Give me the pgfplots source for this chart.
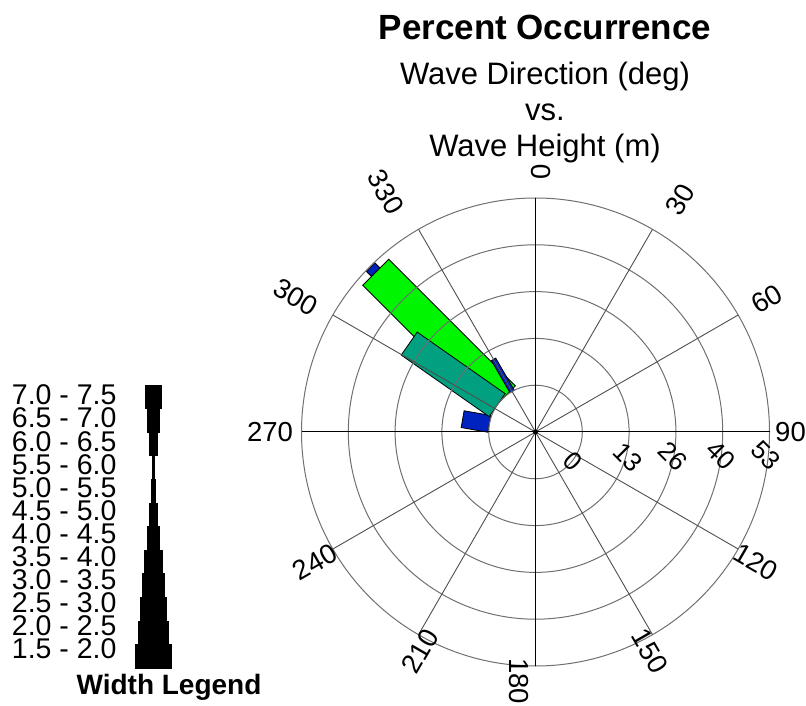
\documentclass[border=0pt]{standalone}
\usepackage{pgfplots}
\pgfplotsset{compat=1.18}
\usepackage{pgfplotstable}
\usepackage{fontspec}
\setmainfont{Liberation Sans}

\definecolor{wblue}{RGB}{0,34,190}
\definecolor{wgreen}{RGB}{0,245,0}
\definecolor{wteal}{RGB}{0,160,128}
\definecolor{gridgray}{RGB}{112,112,112}

% rose segments: direction (deg), start and end percent occurrence,
% segment width (pt, from the width legend), colour; drawn in this order
\pgfplotstableread{
dir start end  wid  col
315 50.7  52.7 12.0 wblue
280 0     7.7  17.0 wblue
315 0     50.7 36.7 wgreen
305 0     30.4 28.0 wteal
330 0     10.5 5.0  wblue
}\rosebars

% width legend: wave height bin and drawn width (pt)
\pgfplotstableread{
lo  hi  wid
1.5 2.0 36.7
2.0 2.5 30.0
2.5 3.0 26.7
3.0 3.5 21.7
3.5 4.0 17.3
4.0 4.5 12.3
4.5 5.0 8.3
5.0 5.5 3.3
5.5 6.0 2.0
6.0 6.5 8.0
6.5 7.0 12.0
7.0 7.5 16.7
}\widthlegend

\tikzset{
  anglab/.style={font=\fontsize{27.5}{27.5}\selectfont, inner sep=0pt, anchor=center},
  radlab/.style={font=\fontsize{26}{26}\selectfont, inner sep=0pt, anchor=center, rotate=-45},
  leglab/.style={font=\fontsize{28.5}{28.5}\selectfont, inner sep=0pt, anchor=east},
}

\begin{document}
\begin{tikzpicture}
\begin{axis}[
  scale only axis, width=806pt, height=705pt,
  xmin=-535.5, xmax=270.5, ymin=-273, ymax=432,
  hide axis, clip=false,
]
% ---- rose segments (radius 46.8 is 0 %, 46.8 per 13.25 %)
\pgfplotstablegetrowsof{\rosebars}
\pgfmathtruncatemacro\nbars{\pgfplotsretval-1}
\pgfplotsforeachungrouped \i in {0,...,\nbars}{%
  \pgfplotstablegetelem{\i}{dir}\of\rosebars \let\bdir\pgfplotsretval
  \pgfplotstablegetelem{\i}{start}\of\rosebars \let\bsta\pgfplotsretval
  \pgfplotstablegetelem{\i}{end}\of\rosebars \let\bend\pgfplotsretval
  \pgfplotstablegetelem{\i}{wid}\of\rosebars \let\bwid\pgfplotsretval
  \pgfplotstablegetelem{\i}{col}\of\rosebars \let\bcol\pgfplotsretval
  \pgfmathsetmacro\ri{46.8+\bsta*46.8/13.25}%
  \pgfmathsetmacro\ro{46.8+\bend*46.8/13.25}%
  \pgfmathsetmacro\ux{sin(\bdir)}%
  \pgfmathsetmacro\uy{cos(\bdir)}%
  \pgfmathsetmacro\hw{\bwid/2}%
  \pgfmathsetmacro\xa{\ri*\ux+\hw*\uy}\pgfmathsetmacro\ya{\ri*\uy-\hw*\ux}%
  \pgfmathsetmacro\xb{\ro*\ux+\hw*\uy}\pgfmathsetmacro\yb{\ro*\uy-\hw*\ux}%
  \pgfmathsetmacro\xc{\ro*\ux-\hw*\uy}\pgfmathsetmacro\yc{\ro*\uy+\hw*\ux}%
  \pgfmathsetmacro\xd{\ri*\ux-\hw*\uy}\pgfmathsetmacro\yd{\ri*\uy+\hw*\ux}%
  \edef\drawbar{\noexpand\addplot[fill=\bcol, draw=black, line width=0.8pt, mark=none]
    coordinates {(\xa,\ya) (\xb,\yb) (\xc,\yc) (\xd,\yd)} -- cycle;}%
  \drawbar
}

% ---- polar grid
\pgfplotsinvokeforeach{46.8,93.6,140.4,187.2,234}{
  \draw[gridgray, line width=1pt] (axis cs:0,0) circle[radius=#1];
}
\pgfplotsinvokeforeach{30,60,120,150,210,240,300,330}{
  \draw[gridgray!70!black, line width=0.9pt] (axis cs:0,0) -- (axis cs:{234*sin(#1)},{234*cos(#1)});
}
\pgfplotsinvokeforeach{0,90,180,270}{
  \draw[black, line width=1pt] (axis cs:0,0) -- (axis cs:{234*sin(#1)},{234*cos(#1)});
}
\fill[black] (axis cs:0,0) circle[radius=2.5];

% ---- direction labels
\node[anglab, rotate=90]  at (axis cs:5.5,260)      {0};
\node[anglab, rotate=60]  at (axis cs:144.5,232)    {30};
\node[anglab, rotate=30]  at (axis cs:231.5,133)    {60};
\node[anglab, rotate=0]   at (axis cs:255,0)        {90};
\node[anglab, rotate=-30] at (axis cs:220.5,-130)   {120};
\node[anglab, rotate=-60] at (axis cs:114.5,-219)   {150};
\node[anglab, rotate=-90] at (axis cs:-16.5,-249)   {180};
\node[anglab, rotate=60]  at (axis cs:-115.5,-219)  {210};
\node[anglab, rotate=30]  at (axis cs:-220.5,-130)  {240};
\node[anglab, rotate=0]   at (axis cs:-265.5,0)     {270};
\node[anglab, rotate=-30] at (axis cs:-239.5,135)   {300};
\node[anglab, rotate=-60] at (axis cs:-149.5,240)   {330};

% ---- percent labels
\node[radlab] at (axis cs:37.5,-29)  {0};
\node[radlab] at (axis cs:92.5,-25)  {13};
\node[radlab] at (axis cs:137.5,-24) {26};
\node[radlab] at (axis cs:185.5,-23) {40};
\node[radlab] at (axis cs:230.5,-23) {53};

% ---- titles
\node[anchor=base, inner sep=0pt, font=\bfseries\fontsize{35}{35}\selectfont]
  at (axis cs:9.5,392) {Percent Occurrence};
\node[anchor=base, inner sep=0pt, font=\fontsize{31}{31}\selectfont]
  at (axis cs:9.5,347) {Wave Direction (deg)};
\node[anchor=base, inner sep=0pt, font=\fontsize{31}{31}\selectfont]
  at (axis cs:9.5,311) {vs.};
\node[anchor=base, inner sep=0pt, font=\fontsize{31}{31}\selectfont]
  at (axis cs:9.5,275) {Wave Height (m)};

% ---- width legend
\pgfplotstablegetrowsof{\widthlegend}
\pgfmathtruncatemacro\nleg{\pgfplotsretval-1}
\pgfplotsforeachungrouped \k in {0,...,\nleg}{%
  \pgfplotstablegetelem{\k}{lo}\of\widthlegend \let\llo\pgfplotsretval
  \pgfplotstablegetelem{\k}{hi}\of\widthlegend \let\lhi\pgfplotsretval
  \pgfplotstablegetelem{\k}{wid}\of\widthlegend \let\lwid\pgfplotsretval
  \pgfmathsetmacro\lxl{-382.2-\lwid/2}%
  \pgfmathsetmacro\lxr{-382.2+\lwid/2}%
  \pgfmathsetmacro\lyb{-236+23.6*\k}%
  \pgfmathsetmacro\lyt{-212.4+23.6*\k}%
  \pgfmathsetmacro\lyl{-217.1+23.1*\k}%
  \edef\drawleg{\noexpand\addplot[fill=black, draw=black, line width=0.4pt, mark=none]
    coordinates {(\lxl,\lyb) (\lxr,\lyb) (\lxr,\lyt) (\lxl,\lyt)} -- cycle;
    \noexpand\node[leglab] at (axis cs:-418.8,\lyl) {\llo{} - \lhi};}%
  \drawleg
}
\node[anchor=base, inner sep=0pt, font=\bfseries\fontsize{28}{28}\selectfont]
  at (axis cs:-366.5,-262) {Width Legend};

\path (axis cs:-535.5,-273) rectangle (axis cs:270.5,432);
\end{axis}
\pgfresetboundingbox
\path (current axis.south west) rectangle (current axis.north east);
\end{tikzpicture}
\end{document}
